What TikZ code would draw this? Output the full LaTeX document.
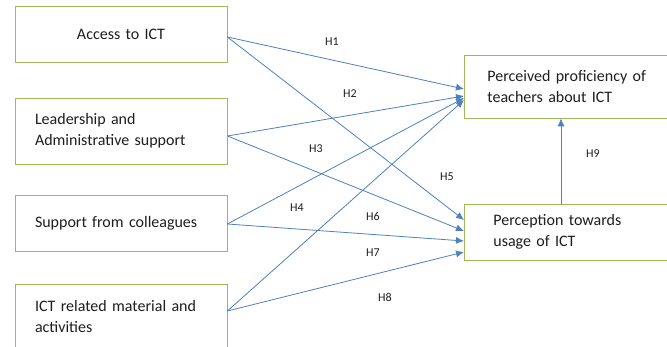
\documentclass[tikz,border=0pt]{standalone}
\usepackage{fontspec}
\setmainfont{Carlito}
\usetikzlibrary{calc,arrows.meta,positioning}

\definecolor{boxgreen}{RGB}{155,187,89}
\definecolor{lineblue}{RGB}{79,129,189}
\definecolor{txtgray}{RGB}{30,30,30}

\begin{document}
\begin{tikzpicture}[x=1pt,y=-1pt]

  % Parameters
  \def\wleft{212pt}
  \def\wright{260pt}

  % Styles
  \tikzstyle{factor}=[draw=boxgreen,line width=0.8pt,minimum width=\wleft,inner xsep=20pt,text width=172pt,align=left,font=\fontsize{16}{21}\selectfont,text=txtgray]
  \tikzstyle{outcome}=[draw=boxgreen,line width=0.8pt,anchor=west,minimum width=\wright,align=left,font=\fontsize{16}{21}\selectfont,text=txtgray]
  \tikzstyle{hyp}=[font=\fontsize{12}{14}\selectfont,text=txtgray]
  \tikzstyle{to}=[-{Latex[length=8pt,width=7pt]},lineblue,line width=0.8pt]

  \useasboundingbox[fill=white] (0,0) rectangle (667,347);

  % Independent factors
  \node[factor,minimum height=56pt,align=center] (access) at (121,34.5) {Access to ICT};
  \node[factor,minimum height=66pt] (lead) at (121,131) {Leadership and\\Administrative support};
  \node[factor,minimum height=56pt] (support) at (121,223) {Support from colleagues};
  \node[factor,minimum height=66pt] (material) at (121,317) {ICT related material and\\activities};

  % Outcomes
  \node[outcome,minimum height=63pt,inner xsep=23pt,text width=214pt] (prof) at (464,86.5) {Perceived proficiency of\\teachers about ICT};
  \node[outcome,minimum height=56pt,inner xsep=29pt,text width=202pt] (usage) at (464,232) {Perception towards\\usage of ICT};

  % Hypotheses
  \draw[to] ([yshift=-2.5pt]access.east) -- ([yshift=-2.5pt]prof.west);
  \draw[to] ([yshift=-2.5pt]access.east) -- ([yshift=12pt]usage.west);
  \draw[to] ([yshift=-5pt]lead.east) -- ([yshift=-9.5pt]prof.west);
  \draw[to] ([yshift=-5pt]lead.east) -- ([yshift=1pt]usage.west);
  \draw[to] ([yshift=-1pt]support.east) -- ([yshift=-11.5pt]prof.west);
  \draw[to] ([yshift=-1pt]support.east) -- ([yshift=-9pt]usage.west);
  \draw[to] ([yshift=6pt]material.east) -- ([yshift=-13.5pt]prof.west);
  \draw[to] ([yshift=6pt]material.east) -- ([yshift=-20pt]usage.west);
  \draw[to] ($(usage.north west)+(97pt,0pt)$) -- ($(prof.south west)+(97pt,0pt)$);

  % Labels
  \node[hyp] (h1) at (332,42) {H1};
  \node[hyp] (h2) at (350,94) {H2};
  \node[hyp] (h3) at (316,149) {H3};
  \node[hyp] (h4) at (297,208) {H4};
  \node[hyp] (h5) at (447,177) {H5};
  \node[hyp] (h6) at (373,216) {H6};
  \node[hyp] (h7) at (373,253) {H7};
  \node[hyp] (h8) at (385,297) {H8};
  \node[hyp] (h9) at (593,154) {H9};

\end{tikzpicture}
\end{document}
